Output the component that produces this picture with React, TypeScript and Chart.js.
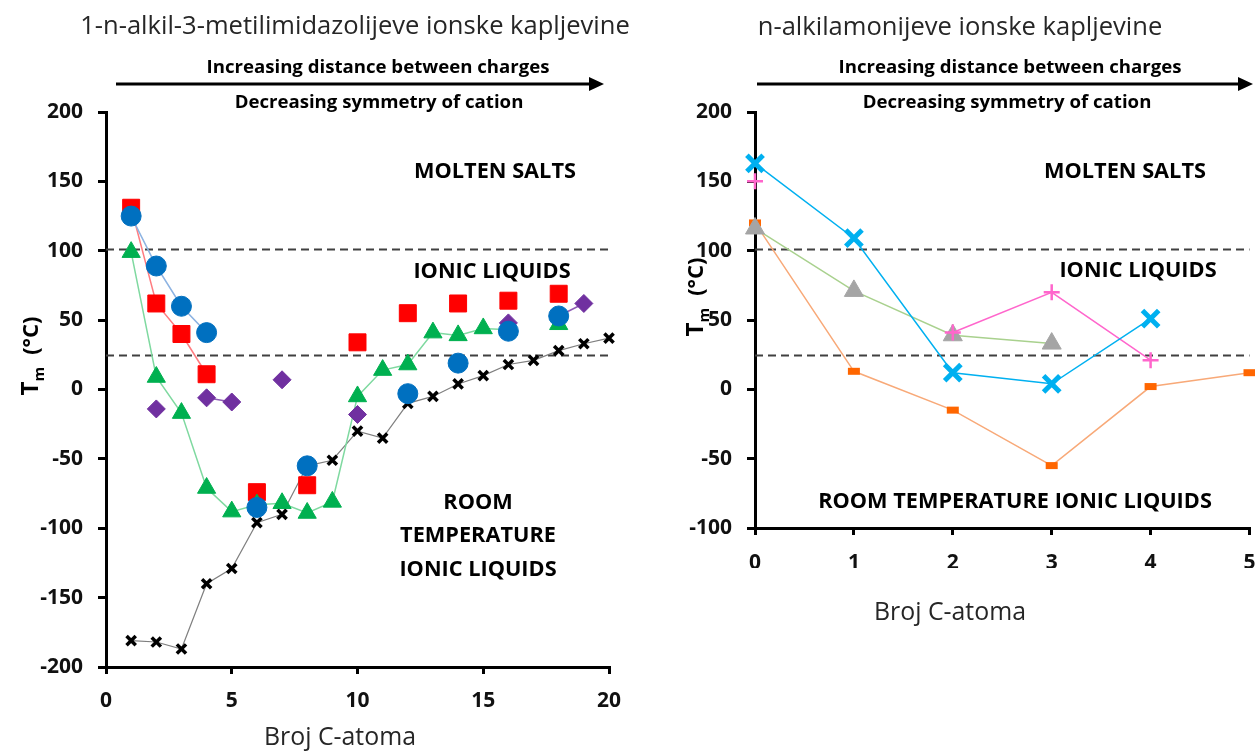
import React, { useEffect, useRef } from "react";
import { Chart, registerables } from "chart.js";

Chart.register(...registerables);

// ---------------- data ----------------
const leftCarbons = [1, 2, 3, 4, 5, 6, 7, 8, 9, 10, 11, 12, 13, 14, 15, 16, 17, 18, 19, 20];
const leftSquares = [131, 62, 40, 11, null, -74, null, -69, null, 34, null, 55, null, 62, null, 64, null, 69, null, null];
const leftCircles = [125, 89, 60, 41, null, -85, null, -55, null, null, null, -3, null, 19, null, 42, null, 53, null, null];
const leftTriangles = [99, 9, -17, -71, -88, -83, -82, -89, -81, -5, 14, 18, 41, 39, 44, 43, null, 47, null, null];
const leftDiamonds = [null, -14, null, -6, -9, null, 7, null, null, -18, null, null, null, null, null, 48, null, 53, 62, null];
const leftCrosses = [-181, -182, -187, -140, -129, -96, -90, -55, -51, -30, -35, -10, -5, 4, 10, 18, 21, 28, 33, 37];
const leftXTicks = [0, 5, 10, 15, 20];
const leftYTicks = [-200, -150, -100, -50, 0, 50, 100, 150, 200];

const rightCarbons = [0, 1, 2, 3, 4, 5];
const rightCrosses = [163, 109, 12, 4, 51, null];
const rightPlus = [150, null, 41, 70, 21, null];
const rightTriangles = [116, 71, 39, 33, null, null];
const rightDashes = [120, 13, -15, -55, 2, 12];
const rightXTicks = [0, 1, 2, 3, 4, 5];
const rightYTicks = [-100, -50, 0, 50, 100, 150, 200];

const boundaryLevels = [101, 25];

const leftTitle = "1-n-alkil-3-metilimidazolijeve ionske kapljevine";
const rightTitle = "n-alkilamonijeve ionske kapljevine";
const arrowTop = "Increasing distance between charges";
const arrowBottom = "Decreasing symmetry of cation";
const xTitle = "Broj C-atoma";

// ---------------- helpers ----------------
const FAMILY = "'Open Sans', 'Noto Sans', 'DejaVu Sans', sans-serif";

const toPoints = (xs: number[], ys: (number | null)[]) =>
  xs.map((x, i) => ({ x, y: ys[i] }));

function fitSize(ctx: CanvasRenderingContext2D, text: string, weight: string, width: number) {
  ctx.font = `${weight} 100px ${FAMILY}`;
  const w = ctx.measureText(text).width;
  return (100 * width) / w;
}

type Txt = { t: string; x: number; y: number; kind: "title" | "arrow" | "region" | "axis" };

type Decor = {
  offsetX: number;
  texts: Txt[];
  arrow: { x1: number; x2: number; y: number };
  tm: { x: number; y: number };
};

function drawTm(ctx: CanvasRenderingContext2D, cx: number, cy: number) {
  ctx.save();
  ctx.translate(cx, cy);
  ctx.rotate(-Math.PI / 2);
  ctx.fillStyle = "#000";
  ctx.textBaseline = "alphabetic";
  ctx.textAlign = "left";
  const fBig = `bold 24px ${FAMILY}`;
  const fSub = `bold 15px ${FAMILY}`;
  const fUnit = `bold 22px ${FAMILY}`;
  ctx.font = fBig;
  const wT = ctx.measureText("T").width;
  ctx.font = fSub;
  const wm = ctx.measureText("m").width;
  ctx.font = fUnit;
  const wU = ctx.measureText("(°C)").width;
  const gap = 12;
  const total = wT + wm + gap + wU;
  let x = -total / 2;
  ctx.font = fBig;
  ctx.fillText("T", x, 8);
  x += wT;
  ctx.font = fSub;
  ctx.fillText("m", x, 14);
  x += wm + gap;
  ctx.font = fUnit;
  ctx.fillText("(°C)", x, 8);
  ctx.restore();
}

function makeDecor(d: Decor) {
  return {
    id: "decor",
    beforeDatasetsDraw(chart: any) {
      const { ctx, chartArea } = chart;
      const y = chart.scales.y;
      ctx.save();
      ctx.strokeStyle = "#404040";
      ctx.lineWidth = 2;
      ctx.setLineDash([8, 5]);
      boundaryLevels.forEach((lv) => {
        const py = Math.round(y.getPixelForValue(lv)) + 0.5;
        ctx.beginPath();
        ctx.moveTo(chartArea.left, py);
        ctx.lineTo(chartArea.right, py);
        ctx.stroke();
      });
      ctx.restore();
    },
    afterDraw(chart: any) {
      const ctx: CanvasRenderingContext2D = chart.ctx;
      ctx.save();
      const sizes = {
        title: fitSize(ctx, leftTitle, "normal", 550),
        arrow: fitSize(ctx, arrowTop, "bold", 343),
        region: fitSize(ctx, "ROOM TEMPERATURE IONIC LIQUIDS", "bold", 394),
        axis: fitSize(ctx, xTitle, "normal", 152),
      };
      ctx.textAlign = "center";
      ctx.textBaseline = "middle";
      d.texts.forEach((tx) => {
        const bold = tx.kind === "arrow" || tx.kind === "region";
        ctx.font = `${bold ? "bold" : "normal"} ${sizes[tx.kind]}px ${FAMILY}`;
        ctx.fillStyle = bold ? "#000" : "#262626";
        ctx.fillText(tx.t, tx.x - d.offsetX, tx.y);
      });
      // arrow
      const a = d.arrow;
      const x1 = a.x1 - d.offsetX;
      const x2 = a.x2 - d.offsetX;
      ctx.strokeStyle = "#000";
      ctx.fillStyle = "#000";
      ctx.lineWidth = 3;
      ctx.beginPath();
      ctx.moveTo(x1, a.y);
      ctx.lineTo(x2 - 10, a.y);
      ctx.stroke();
      ctx.beginPath();
      ctx.moveTo(x2, a.y);
      ctx.lineTo(x2 - 15, a.y - 7);
      ctx.lineTo(x2 - 15, a.y + 7);
      ctx.closePath();
      ctx.fill();
      drawTm(ctx, d.tm.x - d.offsetX, d.tm.y);
      ctx.restore();
    },
  };
}

function axisCommon(ticksArr: number[], tickLen: number, pad: number, fit: (s: any) => void) {
  return {
    type: "linear" as const,
    min: ticksArr[0],
    max: ticksArr[ticksArr.length - 1],
    afterBuildTicks: (s: any) => {
      s.ticks = ticksArr.map((v) => ({ value: v }));
    },
    afterFit: fit,
    grid: {
      display: true,
      drawOnChartArea: false,
      drawTicks: true,
      tickLength: tickLen,
      tickWidth: 3,
      tickColor: "#000",
      color: "#000",
      lineWidth: 3,
    },
    border: { display: true, color: "#000", width: 3 },
    ticks: {
      font: { family: FAMILY, size: 21, weight: "bold" as const },
      color: "#111",
      padding: pad,
      maxRotation: 0,
      autoSkip: false,
    },
  };
}

function ds(
  label: string,
  data: any[],
  order: number,
  line: string,
  lineWidth: number,
  style: string,
  radius: number,
  fill: string,
  stroke: string,
  strokeW: number
) {
  return {
    label,
    data,
    order,
    borderColor: line,
    borderWidth: lineWidth,
    backgroundColor: fill,
    pointStyle: style,
    pointRadius: radius,
    pointHoverRadius: radius,
    pointBackgroundColor: fill,
    pointBorderColor: stroke,
    pointBorderWidth: strokeW,
    tension: 0,
    spanGaps: false,
    clip: false as const,
    fill: false,
  };
}

function leftConfig(): any {
  return {
    type: "line",
    data: {
      datasets: [
        ds("circles", toPoints(leftCarbons, leftCircles), 0, "#8db3e2", 1.5, "circle", 10, "#0070c0", "#0070c0", 1),
        ds("diamonds", toPoints(leftCarbons, leftDiamonds), 1, "#8e5cb5", 1.5, "rectRot", 9, "#7030a0", "#7030a0", 1),
        ds("triangles", toPoints(leftCarbons, leftTriangles), 2, "#7fd9a0", 1.5, "triangle", 10.5, "#00b050", "#00b050", 1),
        ds("squares", toPoints(leftCarbons, leftSquares), 3, "#ff7c80", 1.5, "rect", 12, "#ff0000", "#ff0000", 1),
        ds("crosses", toPoints(leftCarbons, leftCrosses), 4, "#7f7f7f", 1.2, "crossRot", 6.5, "#000", "#000", 3.5),
      ],
    },
    options: {
      responsive: false,
      animation: false,
      events: [],
      layout: { padding: { left: 0, right: 31, top: 112, bottom: 46 } },
      plugins: { legend: { display: false }, tooltip: { enabled: false }, title: { display: false } },
      scales: {
        x: axisCommon(leftXTicks, 7, 14, (s: any) => {
          s.height = 40;
        }),
        y: axisCommon(leftYTicks, 8, 15, (s: any) => {
          s.width = 106;
        }),
      },
    },
    plugins: [
      makeDecor({
        offsetX: 0,
        texts: [
          { t: leftTitle, x: 355, y: 27, kind: "title" },
          { t: arrowTop, x: 378, y: 68, kind: "arrow" },
          { t: arrowBottom, x: 379, y: 103, kind: "arrow" },
          { t: "MOLTEN SALTS", x: 495, y: 172, kind: "region" },
          { t: "IONIC LIQUIDS", x: 492, y: 272, kind: "region" },
          { t: "ROOM", x: 478, y: 503, kind: "region" },
          { t: "TEMPERATURE", x: 478, y: 536, kind: "region" },
          { t: "IONIC LIQUIDS", x: 478, y: 570, kind: "region" },
          { t: xTitle, x: 340, y: 738, kind: "axis" },
        ],
        arrow: { x1: 116, x2: 604, y: 84 },
        tm: { x: 30, y: 356 },
      }),
    ],
  };
}

function rightConfig(): any {
  return {
    type: "line",
    data: {
      datasets: [
        ds("crosses", toPoints(rightCarbons, rightCrosses), 0, "#00b0f0", 1.5, "crossRot", 11.5, "#00b0f0", "#00b0f0", 5),
        ds("plus", toPoints(rightCarbons, rightPlus), 1, "#ff66cc", 1.5, "cross", 8, "#ff66cc", "#ff66cc", 2.5),
        ds("triangles", toPoints(rightCarbons, rightTriangles), 2, "#a9d18e", 1.5, "triangle", 11, "#a5a5a5", "#a5a5a5", 1),
        ds("dashes", toPoints(rightCarbons, rightDashes), 3, "#f8a978", 1.5, "line", 6, "#ff6600", "#ff6600", 7),
      ],
    },
    options: {
      responsive: false,
      animation: false,
      events: [],
      layout: { padding: { left: 0, right: 30.5, top: 112, bottom: 185 } },
      plugins: { legend: { display: false }, tooltip: { enabled: false }, title: { display: false } },
      scales: {
        x: axisCommon(rightXTicks, 7, 15, (s: any) => {
          s.height = 40;
        }),
        y: axisCommon(rightYTicks, 8, 15, (s: any) => {
          s.width = 115;
        }),
      },
    },
    plugins: [
      makeDecor({
        offsetX: 640,
        texts: [
          { t: rightTitle, x: 960, y: 28, kind: "title" },
          { t: arrowTop, x: 1010, y: 68, kind: "arrow" },
          { t: arrowBottom, x: 1007, y: 103, kind: "arrow" },
          { t: "MOLTEN SALTS", x: 1125, y: 172, kind: "region" },
          { t: "IONIC LIQUIDS", x: 1138, y: 271, kind: "region" },
          { t: "ROOM TEMPERATURE IONIC LIQUIDS", x: 1015, y: 502, kind: "region" },
          { t: xTitle, x: 950, y: 613, kind: "axis" },
        ],
        arrow: { x1: 757, x2: 1253, y: 84 },
        tm: { x: 695, y: 297 },
      }),
    ],
  };
}

export default function App() {
  const leftRef = useRef<HTMLCanvasElement>(null);
  const rightRef = useRef<HTMLCanvasElement>(null);

  useEffect(() => {
    const c1 = new Chart(leftRef.current as HTMLCanvasElement, leftConfig());
    const c2 = new Chart(rightRef.current as HTMLCanvasElement, rightConfig());
    return () => {
      c1.destroy();
      c2.destroy();
    };
  }, []);

  return (
    <div
      style={{
        position: "absolute",
        left: 0,
        top: 0,
        width: 1255,
        height: 753,
        overflow: "hidden",
        background: "#fff",
      }}
    >
      <div style={{ position: "absolute", left: 0, top: 0, width: 640, height: 753 }}>
        <canvas ref={leftRef} width={640} height={753} style={{ width: 640, height: 753, display: "block" }} />
      </div>
      <div style={{ position: "absolute", left: 640, top: 0, width: 640, height: 753 }}>
        <canvas ref={rightRef} width={640} height={753} style={{ width: 640, height: 753, display: "block" }} />
      </div>
    </div>
  );
}
